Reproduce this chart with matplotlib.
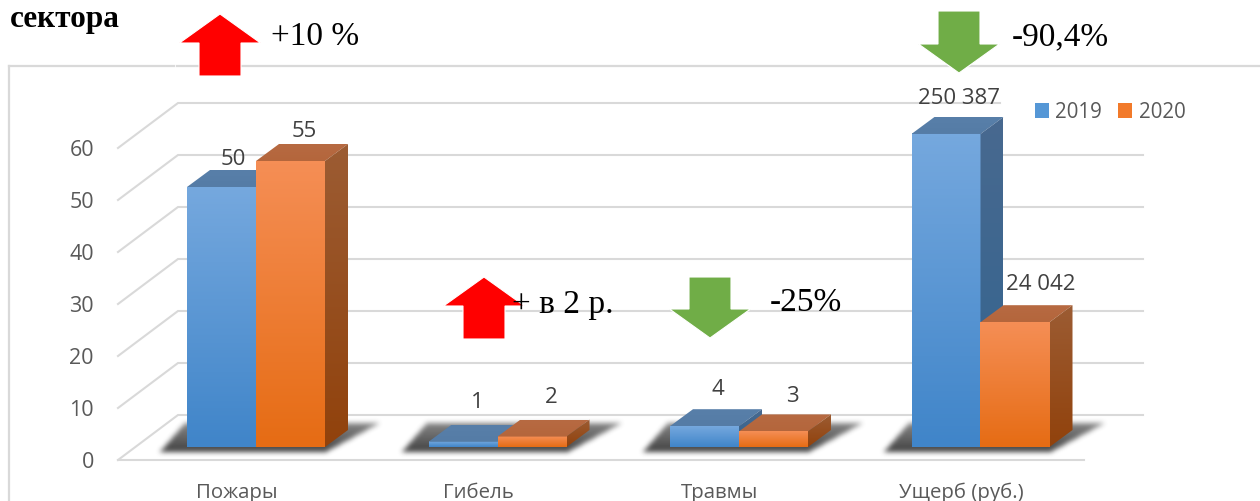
#!/usr/bin/env python

# Fires / deaths / injuries / damage, 2019 vs 2020, as a fake 3D column chart
import numpy as np
import matplotlib
matplotlib.use("Agg")
import matplotlib.pyplot as plt
from matplotlib.colors import LinearSegmentedColormap
from matplotlib.patches import Polygon, Patch

categories = ["Пожары", "Гибель", "Травмы", "Ущерб (руб.)"]
values_2019 = [50, 1, 4, 60.2]
values_2020 = [55, 2, 3, 24]
labels_2019 = ["50", "1", "4", "250 387"]
labels_2020 = ["55", "2", "3", "24 042"]
y_ticks = [0, 10, 20, 30, 40, 50, 60]
series_names = ["2019", "2020"]

W, H = 1260, 502
PX_CAT = 241.5   # pixels per category
PX_VAL = 5.2     # pixels per value unit
X0, Y0 = 256, 448  # pixel position of category 0, value 0

fig = plt.figure(figsize=(W / 100, H / 100), dpi=100, facecolor="white")

# Main axes: x in categories, y in values, filling the figure
ax = fig.add_axes([0, 0, 1, 1])
xlim = (-X0 / PX_CAT, (W - X0) / PX_CAT)
ylim = ((Y0 - H) / PX_VAL, Y0 / PX_VAL)
ax.axis("off")

# Overlay axes in image pixels for the pasted arrows and captions
ov = fig.add_axes([0, 0, 1, 1], zorder=5)
ov.set_xlim(0, W)
ov.set_ylim(H, 0)
ov.axis("off")
ov.patch.set_alpha(0)

dx = 23 / PX_CAT
dy = 17 / PX_VAL
bar_w = 69 / PX_CAT
wall_y = 32 / PX_VAL    # back wall offset above the bar baseline
front_y = -13 / PX_VAL  # front floor edge below the bar baseline
wall_x = (178 - X0) / PX_CAT
front_x = (118 - X0) / PX_CAT
grid_c = "#d9d9d9"


def gradient(c_top, c_bot, x0, x1, y0, y1, clip=None, z=3):
    cm = LinearSegmentedColormap.from_list("g", [c_top, c_bot])
    im = ax.imshow(np.linspace(0, 1, 64).reshape(-1, 1), cmap=cm, aspect="auto",
                   extent=(x0, x1, y0, y1), origin="upper", zorder=z,
                   interpolation="bilinear")
    if clip is not None:
        im.set_clip_path(Polygon(clip, closed=True, transform=ax.transData))


def box_blur(a, n):
    k = np.ones(n) / n
    for _ in range(3):
        a = np.apply_along_axis(lambda r: np.convolve(r, k, mode="same"), 0, a)
        a = np.apply_along_axis(lambda r: np.convolve(r, k, mode="same"), 1, a)
    return a


def shadow(x_left, x_right):
    # blurred parallelogram on the floor, built on a one pixel grid
    px_l = x_left * PX_CAT + X0 - 50
    px_r = x_right * PX_CAT + X0 + 80
    xs = np.arange(px_l, px_r)
    ys = np.arange(405, 470)
    gx, gy = np.meshgrid(xs, ys)
    t = (Y0 + 4 - gy) / 28.0
    left = x_left * PX_CAT + X0 - 27 + t * 24
    right = x_right * PX_CAT + X0 + 1 + t * 52
    mask = ((t >= 0) & (t <= 1) & (gx >= left) & (gx <= right)).astype(float)
    mask = box_blur(mask, 5) * (1 - 0.35 * np.clip(t, 0, 1))
    rgba = np.zeros(mask.shape + (4,))
    rgba[..., :3] = 0.22
    rgba[..., 3] = mask * 0.95
    ax.imshow(rgba, aspect="auto", origin="upper", zorder=2,
              extent=((px_l - X0) / PX_CAT, (px_r - X0) / PX_CAT,
                      (Y0 - 470) / PX_VAL, (Y0 - 405) / PX_VAL))


def column(x_left, v, colors):
    front_top, front_bot, top_top, top_bot, side_top, side_bot = colors
    x_right = x_left + bar_w
    gradient(front_top, front_bot, x_left, x_right, 0, v)
    top = [(x_left, v), (x_right, v), (x_right + dx, v + dy), (x_left + dx, v + dy)]
    gradient(top_top, top_bot, x_left, x_right + dx, v, v + dy, clip=top)
    side = [(x_right, 0), (x_right + dx, dy), (x_right + dx, v + dy), (x_right, v)]
    gradient(side_top, side_bot, x_right, x_right + dx, 0, v + dy, clip=side)


blue = ("#75a8de", "#4085c9", "#587fa9", "#557ca6", "#48698f", "#32648f")
orange = ("#f58e55", "#e66c14", "#b76a42", "#b4663c", "#9c5c33", "#91420c")

# Back wall gridlines and the diagonals on the side wall
for v in y_ticks:
    x_end = (1000 - X0) / PX_CAT if v == 60 else (1143 - X0) / PX_CAT
    ax.plot([front_x, wall_x, x_end],
            [v + front_y, v + wall_y, v + wall_y], color=grid_c, lw=1.5, zorder=1,
            solid_joinstyle="miter")
    ax.text((94 - X0) / PX_CAT, v + front_y - 2.0 / PX_VAL, str(v), ha="right", va="center",
            fontsize=15.5, color="#595959", family="Open Sans")
# Floor front edge
ax.plot([front_x, (1084 - X0) / PX_CAT], [front_y, front_y], color=grid_c, lw=1.5, zorder=1)

# Columns
for i in range(len(categories)):
    shadow(i - bar_w, i + bar_w)
    column(i - bar_w, values_2019[i], blue)
    column(i, values_2020[i], orange)

ax.set_xlim(*xlim)
ax.set_ylim(*ylim)

# Data labels and category labels
label_pos_2019 = [(233, 160), (477, 403), (718, 390), (959, 99)]
label_pos_2020 = [(304, 132), (551, 398), (792, 397), (1041, 285)]
for txt, p in zip(labels_2019 + labels_2020, label_pos_2019 + label_pos_2020):
    ov.text(p[0], p[1], txt, ha="center", va="center", fontsize=16,
            color="#404040", family="Open Sans")
for i, c in enumerate(categories):
    ov.text(X0 + i * PX_CAT - 19, 493, c, ha="center", va="center", fontsize=14.7,
            color="#595959", family="Open Sans")

# Chart frame, with the small gap left by the pasted arrow
ov.plot([9, 9], [H, 67], color=grid_c, lw=1.6, zorder=1)
ov.plot([9, 174], [67, 67], color=grid_c, lw=1.6, zorder=1)
ov.plot([177, W], [67, 67], color=grid_c, lw=1.6, zorder=1)

# Change arrows: centre x, tip y, head y, tail y, colour
arrows = [(220, 15, 44, 77, "#ff0000"),
          (484, 278, 307, 340, "#ff0000"),
          (710, 339, 310, 278, "#70ad47"),
          (959, 74, 45, 12, "#70ad47")]
for cx, tip, head, tail, col in arrows:
    ov.add_patch(Polygon([(cx, tip), (cx + 40.5, head), (cx + 21, head), (cx + 21, tail),
                          (cx - 21, tail), (cx - 21, head), (cx - 40.5, head)],
                         closed=True, facecolor=col, edgecolor="white", lw=0.8, zorder=4))

# Pasted captions
captions = [("+10 %", 271, 37), ("+ в 2 р.", 512, 305), ("-25%", 770, 303), ("-90,4%", 1012, 37)]
for txt, x, y in captions:
    ov.text(x, y, txt, ha="left", va="center", fontsize=24, color="black",
            family="Liberation Serif", zorder=6)
ov.text(10, 20, "сектора", ha="left", va="center", fontsize=22.5, fontweight="bold",
        color="black", family="Liberation Serif", zorder=6)

# Legend
ov.legend(handles=[Patch(facecolor="#5597d6", label=series_names[0]),
                   Patch(facecolor="#f27a2a", label=series_names[1])],
          loc="center left", bbox_to_anchor=(1035, 113), bbox_transform=ov.transData,
          ncol=2, frameon=False, prop={"family": "Open Sans", "size": 14.8},
          labelcolor="#595959", handlelength=0.68, handleheight=0.7,
          handletextpad=0.3, columnspacing=0.8, borderpad=0, borderaxespad=0)

fig.savefig("out.png", dpi=100, facecolor="white")
